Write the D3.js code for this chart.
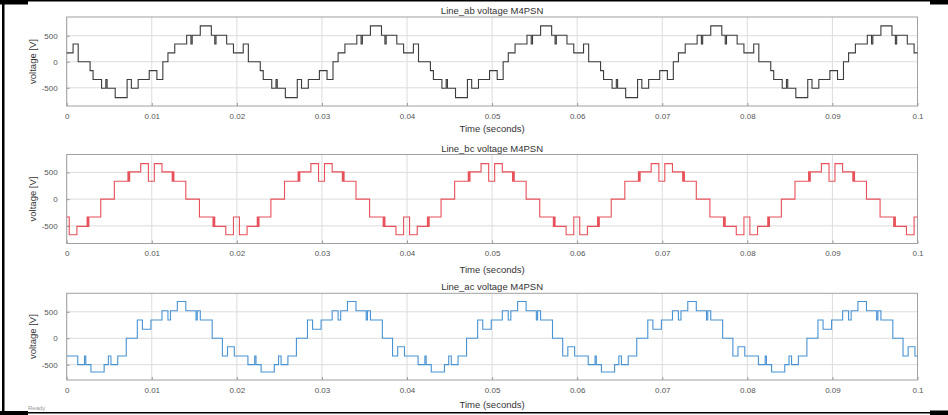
<!DOCTYPE html>
<html lang="en">
  <head>
    <meta charset="UTF-8" />
    <title>M4PSN line voltages</title>
    <style>
      body { margin: 0; background: #fff; }
      svg text { font-family: "Liberation Sans", Arial, sans-serif; }
    </style>
  </head>
  <body>
    <svg id="svg" width="948" height="415"></svg>
    <script src="https://d3js.org/d3.v7.min.js"></script>
    <script>
      // tick values / labels
      const xTicks = [0, 0.01, 0.02, 0.03, 0.04, 0.05, 0.06, 0.07, 0.08, 0.09, 0.1];
      const xTickLabels = ["0", "0.01", "0.02", "0.03", "0.04", "0.05", "0.06", "0.07", "0.08", "0.09", "0.1"];
      const yTicks = [-500, 0, 500];
      const yTickLabels = ["-500", "0", "500"];
      const titles = ["Line_ab voltage M4PSN", "Line_bc voltage M4PSN", "Line_ac voltage M4PSN"];

      // step data: [time in ms, voltage in V] (value holds until the next point)
      const lineAb = [
        [0, 170], [0.75, 340], [1.35, 0], [2.75, -170], [3.1, -340], [4.1, -510], [4.6, -340], [4.75, -510], [5.7, -690], [7.1, -340], [7.6, -510], [8.4, -340], [9.7, -170], [10.6, -340], [11.3, 0], [11.9, 170], [12.7, 340], [14.1, 510], [14.6, 340], [14.75, 510], [15.7, 690], [17, 510], [17.4, 340], [17.55, 510], [18.8, 340], [19.6, 170],
        [20.75, 340], [21.35, 0], [22.75, -170], [23.1, -340], [24.1, -510], [24.6, -340], [24.75, -510], [25.7, -690], [27.1, -340], [27.6, -510], [28.4, -340], [29.7, -170], [30.6, -340], [31.3, 0], [31.9, 170], [32.7, 340], [34.1, 510], [34.6, 340], [34.75, 510], [35.7, 690], [37, 510], [37.4, 340], [37.55, 510], [38.8, 340], [39.6, 170],
        [40.75, 340], [41.35, 0], [42.75, -170], [43.1, -340], [44.1, -510], [44.6, -340], [44.75, -510], [45.7, -690], [47.1, -340], [47.6, -510], [48.4, -340], [49.7, -170], [50.6, -340], [51.3, 0], [51.9, 170], [52.7, 340], [54.1, 510], [54.6, 340], [54.75, 510], [55.7, 690], [57, 510], [57.4, 340], [57.55, 510], [58.8, 340], [59.6, 170],
        [60.75, 340], [61.35, 0], [62.75, -170], [63.1, -340], [64.1, -510], [64.6, -340], [64.75, -510], [65.7, -690], [67.1, -340], [67.6, -510], [68.4, -340], [69.7, -170], [70.6, -340], [71.3, 0], [71.9, 170], [72.7, 340], [74.1, 510], [74.6, 340], [74.75, 510], [75.7, 690], [77, 510], [77.4, 340], [77.55, 510], [78.8, 340], [79.6, 170],
        [80.75, 340], [81.35, 0], [82.75, -170], [83.1, -340], [84.1, -510], [84.6, -340], [84.75, -510], [85.7, -690], [87.1, -340], [87.6, -510], [88.4, -340], [89.7, -170], [90.6, -340], [91.3, 0], [91.9, 170], [92.7, 340], [94.1, 510], [94.6, 340], [94.75, 510], [95.7, 690], [97, 510], [97.4, 340], [97.55, 510], [98.8, 340], [99.6, 170],
        [100, 170]
      ];

      const lineBc = [
        [0, -335], [0.3, -665], [1.2, -510], [2.4, -335], [2.5, -510], [2.6, -335], [4, 0], [5.6, 335], [7.2, 510], [7.3, 335], [7.4, 510], [8.7, 665], [9.6, 335], [10.3, 665], [11.2, 510], [12.4, 335], [12.5, 510], [12.6, 335], [14, 0], [15.6, -335], [17.2, -510], [17.3, -335], [17.4, -510], [18.7, -665], [19.6, -335],
        [20.3, -665], [21.2, -510], [22.4, -335], [22.5, -510], [22.6, -335], [24, 0], [25.6, 335], [27.2, 510], [27.3, 335], [27.4, 510], [28.7, 665], [29.6, 335], [30.3, 665], [31.2, 510], [32.4, 335], [32.5, 510], [32.6, 335], [34, 0], [35.6, -335], [37.2, -510], [37.3, -335], [37.4, -510], [38.7, -665], [39.6, -335],
        [40.3, -665], [41.2, -510], [42.4, -335], [42.5, -510], [42.6, -335], [44, 0], [45.6, 335], [47.2, 510], [47.3, 335], [47.4, 510], [48.7, 665], [49.6, 335], [50.3, 665], [51.2, 510], [52.4, 335], [52.5, 510], [52.6, 335], [54, 0], [55.6, -335], [57.2, -510], [57.3, -335], [57.4, -510], [58.7, -665], [59.6, -335],
        [60.3, -665], [61.2, -510], [62.4, -335], [62.5, -510], [62.6, -335], [64, 0], [65.6, 335], [67.2, 510], [67.3, 335], [67.4, 510], [68.7, 665], [69.6, 335], [70.3, 665], [71.2, 510], [72.4, 335], [72.5, 510], [72.6, 335], [74, 0], [75.6, -335], [77.2, -510], [77.3, -335], [77.4, -510], [78.7, -665], [79.6, -335],
        [80.3, -665], [81.2, -510], [82.4, -335], [82.5, -510], [82.6, -335], [84, 0], [85.6, 335], [87.2, 510], [87.3, 335], [87.4, 510], [88.7, 665], [89.6, 335], [90.3, 665], [91.2, 510], [92.4, 335], [92.5, 510], [92.6, 335], [94, 0], [95.6, -335], [97.2, -510], [97.3, -335], [97.4, -510], [98.7, -665], [99.6, -335],
        [100, -335]
      ];

      const lineAc = [
        [0, -335], [1.3, -500], [2.1, -335], [2.25, -500], [2.85, -640], [4.4, -500], [4.9, -335], [5.2, -500], [6, -335], [7, 0], [8.3, 345], [8.9, 170], [9.9, 345], [11.2, 520], [11.9, 345], [12.2, 520], [13, 695], [14, 520], [15.2, 345], [15.35, 520], [15.7, 345], [17.1, 0], [18.3, -335], [18.9, -160], [19.7, -335],
        [21.3, -500], [22.1, -335], [22.25, -500], [22.85, -640], [24.4, -500], [24.9, -335], [25.2, -500], [26, -335], [27, 0], [28.3, 345], [28.9, 170], [29.9, 345], [31.2, 520], [31.9, 345], [32.2, 520], [33, 695], [34, 520], [35.2, 345], [35.35, 520], [35.7, 345], [37.1, 0], [38.3, -335], [38.9, -160], [39.7, -335],
        [41.3, -500], [42.1, -335], [42.25, -500], [42.85, -640], [44.4, -500], [44.9, -335], [45.2, -500], [46, -335], [47, 0], [48.3, 345], [48.9, 170], [49.9, 345], [51.2, 520], [51.9, 345], [52.2, 520], [53, 695], [54, 520], [55.2, 345], [55.35, 520], [55.7, 345], [57.1, 0], [58.3, -335], [58.9, -160], [59.7, -335],
        [61.3, -500], [62.1, -335], [62.25, -500], [62.85, -640], [64.4, -500], [64.9, -335], [65.2, -500], [66, -335], [67, 0], [68.3, 345], [68.9, 170], [69.9, 345], [71.2, 520], [71.9, 345], [72.2, 520], [73, 695], [74, 520], [75.2, 345], [75.35, 520], [75.7, 345], [77.1, 0], [78.3, -335], [78.9, -160], [79.7, -335],
        [81.3, -500], [82.1, -335], [82.25, -500], [82.85, -640], [84.4, -500], [84.9, -335], [85.2, -500], [86, -335], [87, 0], [88.3, 345], [88.9, 170], [89.9, 345], [91.2, 520], [91.9, 345], [92.2, 520], [93, 695], [94, 520], [95.2, 345], [95.35, 520], [95.7, 345], [97.1, 0], [98.3, -335], [98.9, -160], [99.7, -335],
        [100, -335]
      ];

      const svg = d3.select("#svg");
      const left = 66.7, right = 917.5;

      const panels = [
        { title: titles[0], data: lineAb, color: "#3c3c3c", top: 17, bottom: 106, yDomain: [-850, 860], xLabelY: 132 },
        { title: titles[1], data: lineBc, color: "#e8505a", top: 154.5, bottom: 243.5, yDomain: [-830, 835], xLabelY: 273 },
        { title: titles[2], data: lineAc, color: "#4893d4", top: 293.3, bottom: 380, yDomain: [-790, 850], xLabelY: 408 }
      ];

      const x = d3.scaleLinear().domain([0, 0.1]).range([left, right]);

      panels.forEach((p) => {
        const y = d3.scaleLinear().domain(p.yDomain).range([p.bottom, p.top]);
        const g = svg.append("g");

        // grid
        g.selectAll(".gx")
          .data(xTicks)
          .enter()
          .append("line")
          .attr("x1", (d) => x(d))
          .attr("x2", (d) => x(d))
          .attr("y1", p.top)
          .attr("y2", p.bottom)
          .attr("stroke", "#dcdcdc");
        g.selectAll(".gy")
          .data(yTicks)
          .enter()
          .append("line")
          .attr("x1", left)
          .attr("x2", right)
          .attr("y1", (d) => y(d))
          .attr("y2", (d) => y(d))
          .attr("stroke", "#dcdcdc");

        // axes (ticks point inward)
        const xa = g.append("g")
          .attr("transform", `translate(0,${p.bottom})`)
          .call(d3.axisBottom(x).tickValues(xTicks).tickFormat((d, i) => xTickLabels[i]).tickSize(-3).tickPadding(7));
        const ya = g.append("g")
          .attr("transform", `translate(${left},0)`)
          .call(d3.axisLeft(y).tickValues(yTicks).tickFormat((d, i) => yTickLabels[i]).tickSize(-3).tickPadding(9));
        [xa, ya].forEach((a) => {
          a.select(".domain").remove();
          a.selectAll("line").attr("stroke", "#9a9a9a");
          a.selectAll("text").attr("fill", "#555").style("font-size", "8px");
        });

        // box
        g.append("rect")
          .attr("x", left)
          .attr("y", p.top)
          .attr("width", right - left)
          .attr("height", p.bottom - p.top)
          .attr("fill", "none")
          .attr("stroke", "#a0a0a0");

        // waveform
        const line = d3.line()
          .x((d) => x(d[0] / 1000))
          .y((d) => y(d[1]))
          .curve(d3.curveStepAfter);
        g.append("path")
          .datum(p.data)
          .attr("d", line)
          .attr("fill", "none")
          .attr("stroke", p.color)
          .attr("stroke-width", 1.1);

        // texts
        g.append("text")
          .attr("x", (left + right) / 2)
          .attr("y", p.top - 3)
          .attr("text-anchor", "middle")
          .attr("fill", "#333")
          .style("font-size", "9.5px")
          .text(p.title);
        g.append("text")
          .attr("x", (left + right) / 2)
          .attr("y", p.xLabelY)
          .attr("text-anchor", "middle")
          .attr("fill", "#333")
          .style("font-size", "9.5px")
          .text("Time (seconds)");
        g.append("text")
          .attr("transform", `translate(36,${(p.top + p.bottom) / 2}) rotate(-90)`)
          .attr("text-anchor", "middle")
          .attr("fill", "#333")
          .style("font-size", "9.5px")
          .text("voltage [V]");
      });

      // screenshot frame
      const frame = svg.append("g").attr("fill", "#000");
      frame.append("rect").attr("x", 2).attr("y", 0).attr("width", 2.5).attr("height", 415);
      frame.append("rect").attr("x", 0).attr("y", 0).attr("width", 930).attr("height", 1.5);
      frame.append("rect").attr("x", 0).attr("y", 0).attr("width", 28).attr("height", 4.5);
      frame.append("rect").attr("x", 930).attr("y", 0).attr("width", 18).attr("height", 4.5);
      frame.append("rect").attr("x", 0).attr("y", 412).attr("width", 930).attr("height", 1.5);
      frame.append("rect").attr("x", 0).attr("y", 411).attr("width", 28).attr("height", 4);
      frame.append("rect").attr("x", 930).attr("y", 410.5).attr("width", 18).attr("height", 4.5);

      svg.append("text")
        .attr("x", 28)
        .attr("y", 410)
        .attr("fill", "#9a9a9a")
        .style("font-size", "6px")
        .text("Ready");
    </script>
  </body>
</html>
